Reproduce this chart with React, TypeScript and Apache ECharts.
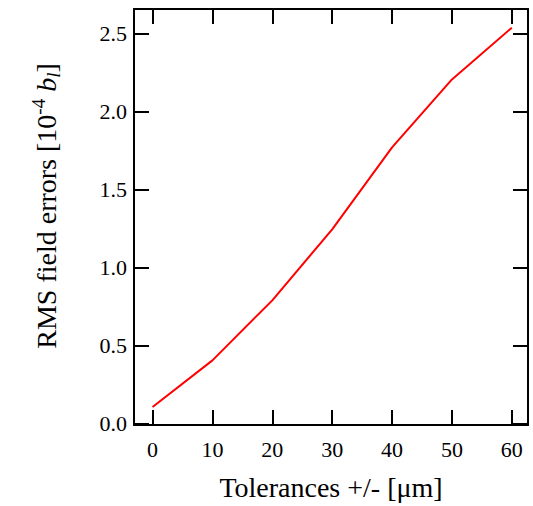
import React, { useEffect, useRef } from "react";
import * as echarts from "echarts";

const tolerances = [0, 10, 20, 30, 40, 50, 60];
const rmsErrors = [0.105, 0.405, 0.79, 1.246, 1.772, 2.208, 2.54];
const xTicks = [0, 10, 20, 30, 40, 50, 60];
const yTicks = [0, 0.5, 1.0, 1.5, 2.0, 2.5];

const FONT = "Liberation Serif";

export default function App() {
  const ref = useRef<HTMLDivElement>(null);
  useEffect(() => {
    const chart = echarts.init(ref.current!, null, { renderer: "svg" });
    const axisLine = { show: true, onZero: false, lineStyle: { color: "#000", width: 2 } };
    const tick = (vals: number[]) => ({
      show: true,
      inside: true,
      length: 15,
      customValues: vals,
      lineStyle: { color: "#000", width: 2 },
    });
    chart.setOption({
      animation: false,
      backgroundColor: "#fff",
      grid: { left: 134, right: 5, top: 9, bottom: 79, containLabel: false },
      xAxis: [
        {
          type: "value",
          min: -3.1,
          max: 62.7,
          position: "bottom",
          axisLine,
          axisTick: tick(xTicks),
          splitLine: { show: false },
          axisLabel: {
            customValues: xTicks,
            margin: 13,
            color: "#000",
            fontFamily: FONT,
            fontSize: 22,
          },
          name: "Tolerances +/- [\u03bcm]",
          nameLocation: "middle",
          nameGap: 48,
          nameTextStyle: { color: "#000", fontFamily: FONT, fontSize: 28 },
        },
        {
          type: "value",
          min: -3.1,
          max: 62.7,
          position: "top",
          axisLine,
          axisTick: tick(xTicks),
          splitLine: { show: false },
          axisLabel: { show: false },
        },
      ],
      yAxis: [
        {
          type: "value",
          min: -0.01,
          max: 2.66,
          position: "left",
          axisLine,
          axisTick: tick(yTicks),
          splitLine: { show: false },
          axisLabel: {
            customValues: yTicks,
            margin: 7,
            color: "#000",
            fontFamily: FONT,
            fontSize: 22,
            formatter: (v: number) => v.toFixed(1),
          },
        },
        {
          type: "value",
          min: -0.01,
          max: 2.66,
          position: "right",
          axisLine,
          axisTick: tick(yTicks),
          splitLine: { show: false },
          axisLabel: { show: false },
        },
      ],
      graphic: [
        {
          type: "text",
          x: 46,
          y: 206,
          rotation: Math.PI / 2,
          style: {
            text: "RMS field errors [10{sup|-4} {it|b}{sub|l}]",
            align: "center",
            verticalAlign: "middle",
            fill: "#000",
            fontFamily: FONT,
            fontSize: 28,
            rich: {
              sup: { fontFamily: FONT, fontSize: 19, verticalAlign: "top", lineHeight: 34, padding: [0, 0, 14, 0] },
              it: { fontFamily: FONT, fontSize: 28, fontStyle: "italic" },
              sub: { fontFamily: FONT, fontSize: 19, fontStyle: "italic", verticalAlign: "bottom", padding: [9, 0, 0, 0] },
            },
          },
        },
      ],
      series: [
        {
          type: "line",
          data: tolerances.map((t, i) => [t, rmsErrors[i]]),
          showSymbol: false,
          symbol: "none",
          lineStyle: { color: "#ff0000", width: 2 },
        },
      ],
    });
    return () => chart.dispose();
  }, []);
  return (
    <div
      ref={ref}
      style={{ position: "absolute", left: 0, top: 0, width: 533, height: 506 }}
    />
  );
}
